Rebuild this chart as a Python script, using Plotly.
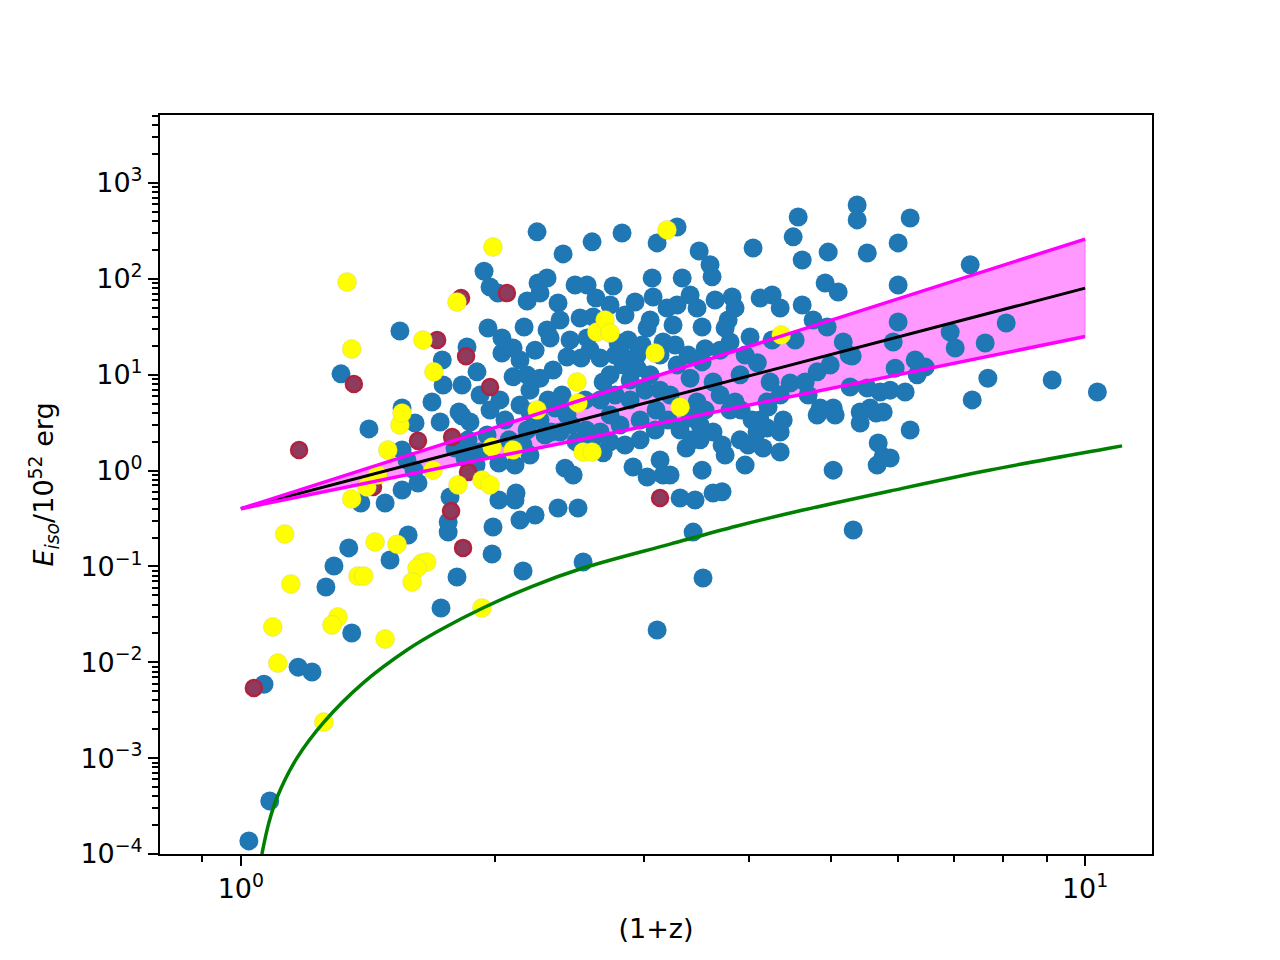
import plotly.graph_objects as go

# ---------------- data ----------------
blue_x = [1.022, 1.082, 1.065, 1.169, 1.214, 1.261, 1.289, 1.342, 1.353, 1.314,
          1.387, 1.418, 1.482, 1.502, 1.543, 1.552, 1.552, 1.552, 1.578, 1.573,
          1.608, 1.604, 1.621, 1.684, 1.722, 1.726, 1.736, 1.732, 1.76, 1.76,
          1.769, 1.793, 1.803, 1.813, 1.828, 1.853, 1.828, 1.843, 1.858, 1.904,
          1.941, 1.962, 1.973, 1.989, 1.984, 1.957, 2.016, 2.038, 2.021, 2.021,
          2.038, 2.101, 2.078, 2.101, 2.112, 2.118, 2.141, 2.159, 2.231, 2.165,
          2.183, 2.159, 2.183, 2.243, 2.261, 2.249, 2.305, 2.305, 2.324, 2.261,
          2.33, 2.356, 2.375, 2.375, 2.408, 2.421, 2.434, 2.343, 2.434, 2.488,
          2.475, 2.508, 2.522, 2.543, 2.571, 2.592, 2.571, 2.606, 2.529, 2.613,
          2.664, 2.686, 2.686, 2.737, 2.76, 2.798, 2.813, 2.828, 2.836, 2.914,
          2.93, 2.946, 2.946, 3.028, 3.028, 3.053, 3.053, 3.07, 3.078, 3.112,
          3.112, 3.163, 3.163, 3.197, 3.286, 3.332, 3.405, 3.47, 3.286, 3.25,
          3.518, 3.49, 3.595, 3.615, 3.818, 3.849, 3.777, 3.746, 3.797, 4.121,
          4.259, 4.353, 4.01, 4.043, 4.572, 4.51, 4.622, 4.962, 4.921, 5.099,
          5.37, 5.37, 5.52, 4.622, 4.762, 4.948, 5.17, 5.297, 4.989, 4.815,
          4.473, 4.235, 4.66, 4.353, 4.2, 3.902, 3.849, 3.695, 3.518, 3.625,
          3.405, 3.286, 3.224, 3.47, 5.52, 5.268, 5.718, 5.564, 5.765, 4.855,
          5.03, 5.414, 3.368, 3.424, 3.625, 3.715, 4.2, 4.155, 4.353, 4.353,
          4.389, 4.815, 5.057, 5.414, 5.687, 5.671, 5.765, 5.03, 3.518, 3.224,
          3.313, 3.451, 3.625, 3.715, 3.433, 5.312, 3.527, 6.205, 5.876, 6.205,
          6.005, 6.005, 7.309, 6.005, 5.925, 6.921, 7.016, 7.614, 8.063, 6.291,
          6.465, 6.325, 5.956, 5.876, 6.121, 7.67, 9.14, 10.34, 7.349, 3.913,
          4.09, 4.212, 4.259, 4.534, 5.254, 5.655, 3.956, 4.698, 4.121, 2.261,
          2.292, 2.388, 2.461, 2.495, 2.564, 2.606, 2.664, 2.737, 2.813, 2.891,
          2.971, 3.103, 2.664, 2.775, 2.557, 2.401, 2.311, 2.141, 2.2, 2.183,
          2.055, 2.112, 2.2, 1.92, 1.899, 1.868, 2.851, 2.971, 3.095, 3.206,
          3.313, 3.405, 3.499, 3.547, 3.797, 4.032, 4.087, 3.902, 3.989, 3.137,
          3.011, 2.891, 2.775, 2.875, 2.987, 3.137, 3.268, 3.387, 3.547, 3.695,
          3.645, 2.851, 2.737, 2.634, 2.388, 2.454, 2.231, 2.141, 1.973, 2.027,
          1.92, 2.2, 2.737, 3.499, 3.746, 3.956, 3.137]
blue_y = [1.37e-4, 3.57e-4, 0.0059, 0.0089, 0.0079, 0.061, 0.101, 0.156, 0.0202, 10.2,
          0.459, 2.72, 0.459, 0.1166, 28.6, 4.5, 1.64, 0.627, 0.213, 1.29,
          3.14, 1.01, 0.742, 5.2, 3.21, 0.0368, 7.8, 14.2, 0.228, 0.29,
          0.53, 1.72, 0.0775, 4.08, 7.8, 19.5, 3.71, 1.35, 2.09, 10.7,
          120, 30.7, 82, 0.258, 0.135, 2.35, 71, 16.8, 1.2, 0.494,
          24.1, 9.5, 2.09, 19, 0.494, 0.584, 0.304, 0.0895, 0.344, 31.4,
          58.8, 1.85, 9.9, 309, 71, 90.6, 102, 29.3, 24.1, 9.2,
          2.53, 4.5, 56, 0.407, 182, 1.06, 3.8, 11.2, 15.3, 86.4,
          0.9, 0.407, 39.0, 0.111, 86.4, 18.1, 24.1, 243, 14.9, 40,
          14.9, 1.53, 8.4, 10, 84, 21.4, 17.3, 301, 12.6, 1.09,
          57.4, 16.0, 11.7, 30.7, 0.857, 37.2, 10, 102, 64.7, 237,
          0.0217, 0.9, 21.9, 49.7, 348, 102, 67.9, 49.7, 53.4, 33,
          31.4, 195, 140, 105, 64.7, 49.7, 37.2, 30.7, 21.9, 63,
          67.9, 49.7, 24.7, 210, 442, 274, 157, 190, 90.6, 73,
          590, 412, 186, 53.4, 37.2, 31.4, 21.9, 15.7, 12.6, 10.7,
          8.2, 8.4, 8.4, 6.15, 5.2, 10, 5.2, 6.15, 13.6, 8.4,
          9.2, 12.6, 6.15, 5.2, 7.28, 7.45, 6.6, 4.5, 4.08, 4.5,
          4.5, 4.08, 1.72, 2.09, 2.53, 1.85, 2.78, 1.72, 1.56, 2.53,
          3.37, 3.8, 3.8, 3.14, 1.94, 1.14, 1.39, 1.01, 1.01, 0.9,
          0.518, 0.494, 0.584, 0.6, 0.228, 0.24, 0.0757, 2.65, 1.35, 432,
          237, 86.4, 140, 35.5, 21.9, 27.8, 19, 21.4, 34.6, 14.2,
          12.0, 10, 11.7, 6.9, 6.6, 9.2, 8.8, 6.6, 5.46, 4.27,
          13.3, 4.6, 23, 23, 16, 3.99, 16, 6.15, 3.37, 3.37,
          2.35, 2.53, 2.99, 1.99, 2.65, 2.09, 2.53, 1.99, 2.99, 5.46,
          3.37, 4.29, 5.46, 6.15, 5.46, 6.15, 5.46, 4.83, 4.08, 2.65,
          3.37, 1.14, 1.45, 1.56, 1.14, 3.21, 1.85, 2.09, 2.65, 3.37,
          2.65, 3.54, 2.99, 4.27, 4.27, 3.37, 2.53, 2.09, 1.85, 6.9,
          6.9, 8.8, 16, 23, 20.4, 16, 20.4, 16, 18.7, 18,
          60, 42, 53.4, 63, 37.2, 23, 18, 14.2, 4.27, 5.46,
          6.15, 6.9, 3.8, 2.09, 1.45, 1.14, 1.29]

yellow_x = [1.336, 1.353, 1.127, 1.146, 1.091, 1.106, 1.254, 1.303, 1.282, 1.353,
            1.41, 1.376, 1.398, 1.442, 1.531, 1.493, 1.543, 1.552, 1.689, 1.452,
            1.638, 1.66, 1.617, 1.595, 1.482, 1.643, 1.693, 1.803, 1.989, 1.808,
            1.93, 1.973, 1.984, 2.101, 1.93, 2.243, 2.501, 2.508, 2.64, 2.7,
            2.737, 3.095, 3.197, 3.313, 4.365, 2.543, 2.606]
yellow_y = [92.6, 18.5, 0.218, 0.0655, 0.0234, 0.0098, 2.38e-3, 0.0297, 0.0245, 0.505,
            0.674, 0.0794, 0.0794, 0.18, 0.17, 1.64, 2.99, 3.99, 1.01, 0.9,
            0.108, 0.111, 0.096, 0.0687, 0.0175, 23, 10.7, 57.4, 215, 0.708,
            0.798, 0.708, 1.76, 1.64, 0.0368, 4.29, 8.4, 5.08, 27.9, 37.2,
            27.2, 16.8, 324, 4.61, 26, 1.56, 1.56]

red_x = [1.036, 1.172, 1.361, 1.434, 1.621, 1.708, 1.779, 1.823, 1.848, 1.858,
         1.774, 1.833, 1.973, 2.066, 3.137]
red_y = [0.00539, 1.64, 8.0, 0.674, 2.04, 23, 2.24, 63, 15.6, 0.967,
         0.379, 0.156, 7.44, 71, 0.518]

fit_x = [1.0, 10.0]
fit_mid = [0.4, 80]
fit_hi = [0.4, 260]
fit_lo = [0.4, 25]

green_x = [1.059, 1.079, 1.103, 1.165, 1.254, 1.395, 1.573, 1.722, 1.935, 2.218,
           2.543, 3.224, 3.870, 4.634, 5.876, 7.719, 10.71, 11.06]
green_y = [1.0e-4, 2.10e-4, 3.84e-4, 1.0e-3, 2.38e-3, 6.07e-3, 0.01344, 0.0217, 0.0368, 0.0624,
           0.0962, 0.171, 0.264, 0.387, 0.613, 1.014, 1.72, 1.81]

y_major = [1e-4, 1e-3, 1e-2, 1e-1, 1, 10, 100, 1000]
y_major_text = ["10<sup>−4</sup>", "10<sup>−3</sup>", "10<sup>−2</sup>", "10<sup>−1</sup>",
                "10<sup>0</sup>", "10<sup>1</sup>", "10<sup>2</sup>", "10<sup>3</sup>"]
x_major = [1, 10]
x_major_text = ["10<sup>0</sup>", "10<sup>1</sup>"]

# ---------------- figure ----------------
fig = go.Figure()

# shaded band between fits
fig.add_trace(go.Scatter(
    x=fit_x + fit_x[::-1], y=fit_hi + fit_lo[::-1],
    fill="toself", fillcolor="rgba(255,0,255,0.4)",
    line=dict(color="rgba(255,0,255,0.4)", width=1),
    mode="lines", hoverinfo="skip", showlegend=False))

fig.add_trace(go.Scatter(x=blue_x, y=blue_y, mode="markers",
                         marker=dict(color="#1f77b4", size=19, line=dict(width=0)),
                         showlegend=False))
fig.add_trace(go.Scatter(x=red_x, y=red_y, mode="markers",
                         marker=dict(color="#8e3b5e", size=16,
                                     line=dict(color="#b0223f", width=2.5)),
                         showlegend=False))
fig.add_trace(go.Scatter(x=yellow_x, y=yellow_y, mode="markers",
                         marker=dict(color="#ffff00", size=19,
                                     line=dict(color="rgba(190,190,120,0.5)", width=0.6)),
                         showlegend=False))

fig.add_trace(go.Scatter(x=green_x, y=green_y, mode="lines",
                         line=dict(color="#008000", width=3.5, shape="spline", smoothing=1.0),
                         showlegend=False))
fig.add_trace(go.Scatter(x=fit_x, y=fit_mid, mode="lines",
                         line=dict(color="black", width=3), showlegend=False))
fig.add_trace(go.Scatter(x=fit_x, y=fit_hi, mode="lines",
                         line=dict(color="#ff00ff", width=3.5), showlegend=False))
fig.add_trace(go.Scatter(x=fit_x, y=fit_lo, mode="lines",
                         line=dict(color="#ff00ff", width=3.5), showlegend=False))

y_minor = []
for d in range(-4, 4):
    for k in range(2, 10):
        v = k * 10 ** d
        if v < 5200:
            y_minor.append(v)
x_minor = [0.9, 2, 3, 4, 5, 6, 7, 8, 9]

font = dict(family="DejaVu Sans", size=27, color="black")

fig.update_xaxes(type="log", range=[-0.0958, 1.0792],
                 tickmode="array", tickvals=x_major, ticktext=x_major_text,
                 ticks="outside", ticklen=10, tickwidth=2, tickcolor="black",
                 minor=dict(tickmode="array", tickvals=x_minor, ticks="outside",
                            ticklen=6, tickwidth=1.5, tickcolor="black", showgrid=False),
                 showgrid=False, zeroline=False, showline=True, linecolor="black",
                 linewidth=2, mirror=True, tickfont=font,
                 title=dict(text="(1+z)", font=font, standoff=16))
fig.update_yaxes(type="log", range=[-4, 3.709],
                 tickmode="array", tickvals=y_major, ticktext=y_major_text,
                 ticks="outside", ticklen=10, tickwidth=2, tickcolor="black",
                 minor=dict(tickmode="array", tickvals=y_minor, ticks="outside",
                            ticklen=6, tickwidth=1.5, tickcolor="black", showgrid=False),
                 showgrid=False, zeroline=False, showline=True, linecolor="black",
                 linewidth=2, mirror=True, tickfont=font,
                 title=dict(text="<i>E</i><sub><i>iso</i></sub>/10<sup>52</sup> erg",
                            font=font, standoff=19))

fig.update_layout(width=1280, height=960,
                  margin=dict(l=160, r=128, t=115, b=106),
                  paper_bgcolor="white", plot_bgcolor="white",
                  font=font)

fig.write_html("out.html")
